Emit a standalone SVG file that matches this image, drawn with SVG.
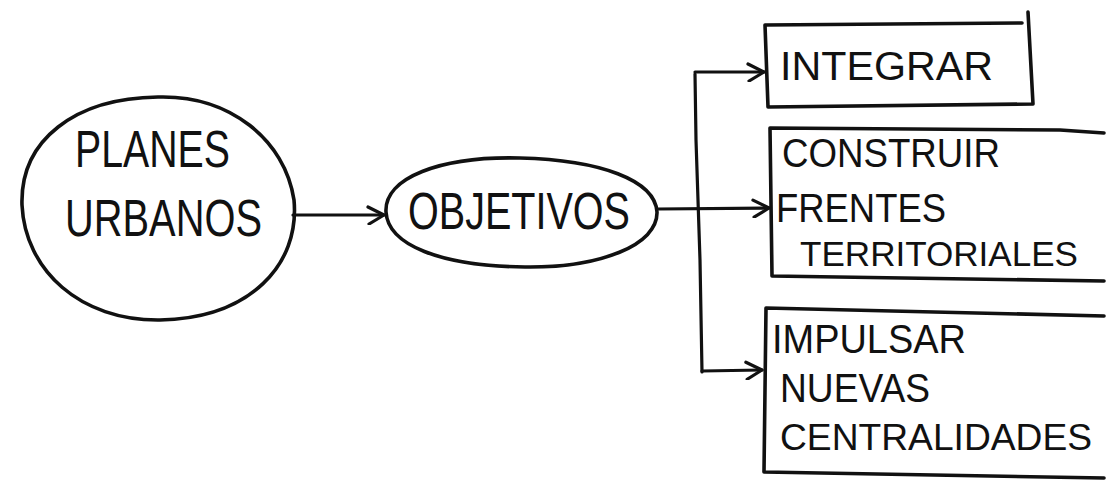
<svg xmlns="http://www.w3.org/2000/svg" width="1106" height="484" viewBox="0 0 1106 484">
<defs>
<marker id="arr" viewBox="0 0 20 20" refX="18" refY="10" markerWidth="20" markerHeight="20" markerUnits="userSpaceOnUse" orient="auto">
<path d="M2,2 L18,10 L3,19" fill="none" stroke="#111" stroke-width="3.2" stroke-linecap="round" stroke-linejoin="round"/>
</marker>
<style>
.sh{fill:none;stroke:#111;stroke-width:3.6;stroke-linecap:round;stroke-linejoin:round}
.cn{fill:none;stroke:#111;stroke-width:3.2;stroke-linecap:round;stroke-linejoin:round}
.t{font-family:"Liberation Sans",Arial,sans-serif;fill:#111;font-size:40px}
.b{font-size:52px}
.s{font-size:35px}
.m{font-size:37px}
</style>
</defs>
<rect width="1106" height="484" fill="#ffffff"/>
<g id="planes-urbanos">
<path class="sh" d="M158,97 C230,95 285,140 294,200 C300,265 250,318 160,320 C80,321 25,270 22,205 C20,140 75,98 158,97 Z"/>
<text class="t b" x="75" y="167" textLength="155" lengthAdjust="spacingAndGlyphs">PLANES</text>
<text class="t b" x="65" y="236" textLength="197" lengthAdjust="spacingAndGlyphs">URBANOS</text>
</g>
<g id="objetivos">
<path class="sh" d="M520,158 C600,160 655,180 657,212 C658,245 600,268 525,267 C440,266 388,245 386,212 C384,178 440,156 520,158 Z"/>
<text class="t b" x="408" y="229" textLength="222" lengthAdjust="spacingAndGlyphs">OBJETIVOS</text>
</g>
<g id="integrar">
<path class="sh" d="M765,25 L1022,23 M1028,12 L1033,104 L768,107 L765,25"/>
<text class="t" x="780" y="80" textLength="213" lengthAdjust="spacingAndGlyphs">INTEGRAR</text>
</g>
<g id="construir">
<path class="sh" d="M1104,133 L1060,130 L770,128 L772,276 L1104,281"/>
<text class="t" x="782" y="167" textLength="218" lengthAdjust="spacingAndGlyphs">CONSTRUIR</text>
<text class="t" x="776" y="222" textLength="170" lengthAdjust="spacingAndGlyphs">FRENTES</text>
<text class="t s" x="800" y="266" textLength="278" lengthAdjust="spacingAndGlyphs">TERRITORIALES</text>
</g>
<g id="impulsar">
<path class="sh" d="M1104,316 L766,308 L764,472 L1104,478"/>
<text class="t" x="772" y="353" textLength="194" lengthAdjust="spacingAndGlyphs">IMPULSAR</text>
<text class="t" x="780" y="402" textLength="150" lengthAdjust="spacingAndGlyphs">NUEVAS</text>
<text class="t m" x="780" y="450" textLength="312" lengthAdjust="spacingAndGlyphs">CENTRALIDADES</text>
</g>
<g id="connectors">
<path class="cn" d="M293,215 L384,215" marker-end="url(#arr)"/>
<path class="cn" d="M658,209 L769,208" marker-end="url(#arr)"/>
<path class="cn" d="M695,74 L696,140 L700,260 L702,372"/>
<path class="cn" d="M695,72 L764,72" marker-end="url(#arr)"/>
<path class="cn" d="M702,371 L762,370" marker-end="url(#arr)"/>
</g>
</svg>
